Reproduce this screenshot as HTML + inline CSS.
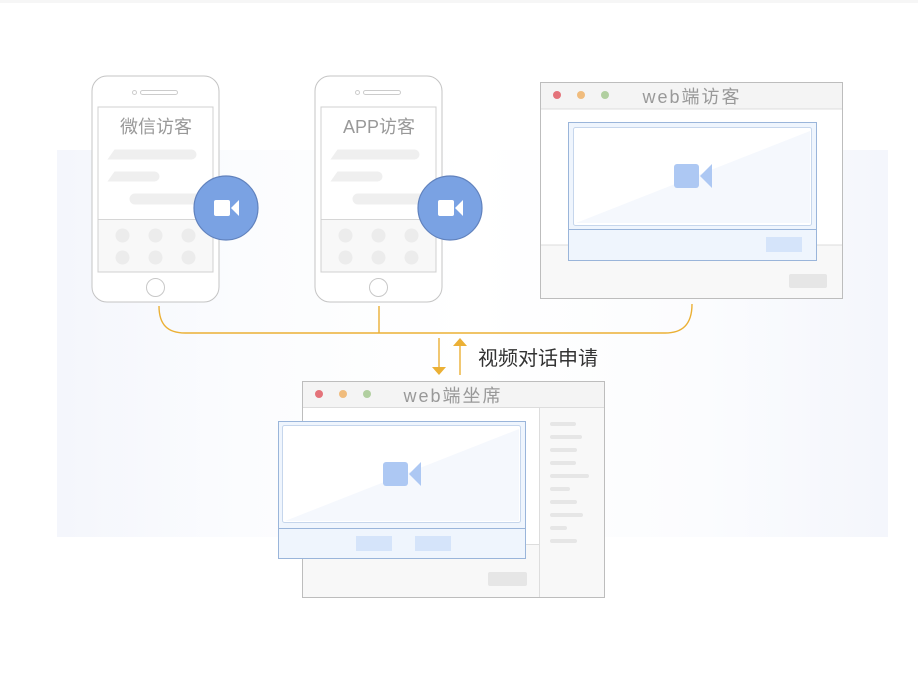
<!DOCTYPE html>
<html><head><meta charset="utf-8"><style>
html,body{margin:0;padding:0;background:#fff;}
svg{display:block;}
text{font-family:"Liberation Sans","Noto Sans CJK SC",sans-serif;}
</style></head><body>
<svg width="918" height="685" viewBox="0 0 918 685" xmlns="http://www.w3.org/2000/svg">
<defs>
<linearGradient id="bg" x1="0" x2="1" y1="0" y2="0">
<stop offset="0" stop-color="#f4f6fc"/><stop offset="0.22" stop-color="#fbfcfe"/><stop offset="0.5" stop-color="#ffffff"/><stop offset="0.78" stop-color="#fbfcfe"/><stop offset="1" stop-color="#f4f6fc"/>
</linearGradient>
<g id="cam"><rect x="-19" y="-12" width="25" height="24" rx="3" fill="#adc8f3"/><path d="M7,0 L19,-12 L19,12 Z" fill="#adc8f3"/></g>
<g id="phone">
<rect x="0.5" y="0.5" width="127" height="226" rx="15" fill="#fff" stroke="#c4c4c4"/>
<circle cx="43" cy="17" r="2" fill="none" stroke="#ccc"/>
<rect x="49" y="15" width="37" height="4" rx="2" fill="none" stroke="#ccc"/>
<rect x="6.5" y="31.5" width="115" height="165" fill="#fff" stroke="#d0d0d0"/>
<rect x="7" y="144" width="114" height="52" fill="#f8f8f8"/>
<line x1="7" y1="144" x2="121" y2="144" stroke="#d6d6d6"/>
<path d="M23,74 h77 a5,5 0 0 1 0,10 h-84 Z" fill="#efefef"/>
<path d="M23,96 h40 a5,5 0 0 1 0,10 h-47 Z" fill="#efefef"/>
<rect x="38" y="118" width="76" height="11" rx="5.5" fill="#efefef"/>
<g fill="#ececec"><circle cx="31" cy="160" r="7"/><circle cx="64" cy="160" r="7"/><circle cx="97" cy="160" r="7"/><circle cx="31" cy="182" r="7"/><circle cx="64" cy="182" r="7"/><circle cx="97" cy="182" r="7"/></g>
<circle cx="64" cy="212" r="9" fill="#fff" stroke="#c8c8c8"/>
</g>
<g id="bubble"><circle r="32" fill="#7aa2e3" stroke="#6182bd" stroke-width="1.2"/><rect x="-12" y="-8" width="16" height="16" rx="2" fill="#fff"/><path d="M5,0 L13,-8 L13,8 Z" fill="#fff"/></g>
</defs>
<rect x="0" y="0" width="918" height="3" fill="#f6f6f6"/>
<rect x="57" y="150" width="831" height="387" fill="url(#bg)"/>

<!-- yellow connectors -->
<g fill="none" stroke="#ebb035" stroke-width="1.4">
<path d="M159,306 C159,325 168,333 185,333 L665,333 C682,333 692,325 692,304"/>
<line x1="379" y1="306" x2="379" y2="333"/>
<line x1="439" y1="338" x2="439" y2="368"/>
<line x1="460" y1="345" x2="460" y2="375"/>
</g>
<path d="M432,367 L446,367 L439,375 Z" fill="#ebb035"/>
<path d="M453,346 L467,346 L460,338 Z" fill="#ebb035"/>
<text x="478" y="365" font-size="20" fill="#333">视频对话申请</text>

<!-- phones -->
<g transform="translate(91.5,75.5)"><use href="#phone"/></g>
<text x="156" y="133" font-size="18" fill="#999" text-anchor="middle">微信访客</text>
<use href="#bubble" x="226" y="208"/>
<g transform="translate(314.5,75.5)"><use href="#phone"/></g>
<text x="379" y="133" font-size="18" fill="#999" text-anchor="middle">APP访客</text>
<use href="#bubble" x="450" y="208"/>

<!-- web visitor -->
<rect x="540.5" y="82.5" width="302" height="216" fill="#fff" stroke="#bdbdbd"/>
<rect x="541" y="83" width="301" height="26" fill="#f4f4f4"/>
<line x1="541" y1="109" x2="842" y2="109" stroke="#ddd"/>
<rect x="541" y="245" width="301" height="53" fill="#f8f8f8"/>
<line x1="541" y1="245" x2="842" y2="245" stroke="#ddd"/>
<circle cx="557" cy="95" r="4" fill="#e4737a"/><circle cx="581" cy="95" r="4" fill="#f0bc7d"/><circle cx="605" cy="95" r="4" fill="#b1cfa0"/>
<text x="692" y="103" font-size="18" fill="#999" text-anchor="middle" letter-spacing="2">web端访客</text>
<rect x="789" y="274" width="38" height="14" rx="2" fill="#e6e6e6"/>
<rect x="568.5" y="122.5" width="248" height="138" fill="#eff5fd" stroke="#9ab5da"/>
<rect x="573.5" y="127.5" width="238" height="98" rx="2" fill="#fff" stroke="#c6d6ec"/>
<path d="M576,223 L810,131 L810,223 Z" fill="#f5f8fd"/>
<line x1="569" y1="229.5" x2="816" y2="229.5" stroke="#9ab5da"/>
<rect x="766" y="237" width="36" height="15" fill="#d5e4fa"/>
<use href="#cam" x="693" y="176"/>

<!-- web seat -->
<rect x="302.5" y="381.5" width="302" height="216" fill="#fff" stroke="#bdbdbd"/>
<rect x="303" y="382" width="301" height="25" fill="#f4f4f4"/>
<line x1="303" y1="407.5" x2="604" y2="407.5" stroke="#ddd"/>
<rect x="539" y="408" width="65" height="189" fill="#f8f8f8"/>
<line x1="539.5" y1="408" x2="539.5" y2="597" stroke="#ddd"/>
<rect x="303" y="544" width="236" height="53" fill="#f8f8f8"/>
<line x1="303" y1="544.5" x2="539" y2="544.5" stroke="#ddd"/>
<circle cx="319" cy="394" r="4" fill="#e4737a"/><circle cx="343" cy="394" r="4" fill="#f0bc7d"/><circle cx="367" cy="394" r="4" fill="#b1cfa0"/>
<text x="453" y="402" font-size="18" fill="#999" text-anchor="middle" letter-spacing="2">web端坐席</text>
<g fill="#e6e6e6">
<rect x="550" y="422" width="26" height="4" rx="2"/><rect x="550" y="435" width="32" height="4" rx="2"/><rect x="550" y="448" width="27" height="4" rx="2"/><rect x="550" y="461" width="26" height="4" rx="2"/><rect x="550" y="474" width="39" height="4" rx="2"/><rect x="550" y="487" width="20" height="4" rx="2"/><rect x="550" y="500" width="27" height="4" rx="2"/><rect x="550" y="513" width="33" height="4" rx="2"/><rect x="550" y="526" width="17" height="4" rx="2"/><rect x="550" y="539" width="27" height="4" rx="2"/>
</g>
<rect x="488" y="572" width="39" height="14" rx="2" fill="#e6e6e6"/>
<rect x="278.5" y="421.5" width="247" height="137" fill="#eff5fd" stroke="#9ab5da"/>
<rect x="282.5" y="425.5" width="238" height="97" rx="2" fill="#fff" stroke="#c6d6ec"/>
<path d="M285,521 L519,429 L519,521 Z" fill="#f5f8fd"/>
<line x1="279" y1="528.5" x2="525" y2="528.5" stroke="#9ab5da"/>
<rect x="356" y="536" width="36" height="15" fill="#d5e4fa"/>
<rect x="415" y="536" width="36" height="15" fill="#d5e4fa"/>
<use href="#cam" x="402" y="474"/>
</svg>
</body></html>
